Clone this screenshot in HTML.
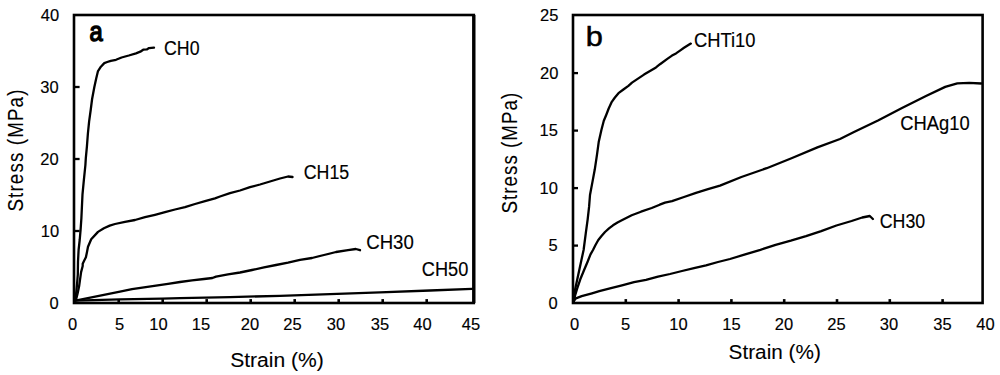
<!DOCTYPE html>
<html><head><meta charset="utf-8"><style>
html,body{margin:0;padding:0;background:#fff;}
body{width:1000px;height:375px;overflow:hidden;}
svg{display:block;}
text{font-family:"Liberation Sans",sans-serif;fill:#000;}
</style></head><body>
<svg width="1000" height="375" viewBox="0 0 1000 375">
<rect x="74.0" y="15.0" width="399.8" height="288.0" fill="none" stroke="#000" stroke-width="2.6"/>
<rect x="573.0" y="15.0" width="409.6" height="288.0" fill="none" stroke="#000" stroke-width="2.6"/>
<line x1="473.8" y1="15.0" x2="473.8" y2="303.0" stroke="#000" stroke-width="3.3"/>
<line x1="74.0" y1="231.0" x2="79.6" y2="231.0" stroke="#000" stroke-width="2.3"/>
<line x1="74.0" y1="159.0" x2="79.6" y2="159.0" stroke="#000" stroke-width="2.3"/>
<line x1="74.0" y1="87.0" x2="79.6" y2="87.0" stroke="#000" stroke-width="2.3"/>
<line x1="118.7" y1="303.0" x2="118.7" y2="299.1" stroke="#000" stroke-width="2.6"/>
<line x1="162.7" y1="303.0" x2="162.7" y2="299.1" stroke="#000" stroke-width="2.6"/>
<line x1="206.7" y1="303.0" x2="206.7" y2="299.1" stroke="#000" stroke-width="2.6"/>
<line x1="250.7" y1="303.0" x2="250.7" y2="299.1" stroke="#000" stroke-width="2.6"/>
<line x1="294.7" y1="303.0" x2="294.7" y2="299.1" stroke="#000" stroke-width="2.6"/>
<line x1="338.7" y1="303.0" x2="338.7" y2="299.1" stroke="#000" stroke-width="2.6"/>
<line x1="382.7" y1="303.0" x2="382.7" y2="299.1" stroke="#000" stroke-width="2.6"/>
<line x1="426.7" y1="303.0" x2="426.7" y2="299.1" stroke="#000" stroke-width="2.6"/>
<line x1="573.0" y1="245.6" x2="578.0" y2="245.6" stroke="#000" stroke-width="2.3"/>
<line x1="573.0" y1="188.1" x2="578.0" y2="188.1" stroke="#000" stroke-width="2.3"/>
<line x1="573.0" y1="130.6" x2="578.0" y2="130.6" stroke="#000" stroke-width="2.3"/>
<line x1="573.0" y1="73.1" x2="578.0" y2="73.1" stroke="#000" stroke-width="2.3"/>
<line x1="625.8" y1="303.0" x2="625.8" y2="299.1" stroke="#000" stroke-width="2.6"/>
<line x1="678.6" y1="303.0" x2="678.6" y2="299.1" stroke="#000" stroke-width="2.6"/>
<line x1="731.4" y1="303.0" x2="731.4" y2="299.1" stroke="#000" stroke-width="2.6"/>
<line x1="784.2" y1="303.0" x2="784.2" y2="299.1" stroke="#000" stroke-width="2.6"/>
<line x1="837.0" y1="303.0" x2="837.0" y2="299.1" stroke="#000" stroke-width="2.6"/>
<line x1="889.8" y1="303.0" x2="889.8" y2="299.1" stroke="#000" stroke-width="2.6"/>
<line x1="942.6" y1="303.0" x2="942.6" y2="299.1" stroke="#000" stroke-width="2.6"/>
<text transform="translate(49.40,309.00)" font-size="16.5" stroke="#000" stroke-width="0.15">0</text>
<text transform="translate(40.70,237.00)" font-size="16.5" stroke="#000" stroke-width="0.15">10</text>
<text transform="translate(40.20,165.00)" font-size="16.5" stroke="#000" stroke-width="0.15">20</text>
<text transform="translate(40.20,93.00)" font-size="16.5" stroke="#000" stroke-width="0.15">30</text>
<text transform="translate(40.70,21.00)" font-size="16.5" stroke="#000" stroke-width="0.15">40</text>
<text transform="translate(548.40,309.00)" font-size="16.5" stroke="#000" stroke-width="0.15">0</text>
<text transform="translate(548.40,251.00)" font-size="16.5" stroke="#000" stroke-width="0.15">5</text>
<text transform="translate(539.55,194.00)" font-size="16.5" stroke="#000" stroke-width="0.15">10</text>
<text transform="translate(539.55,136.00)" font-size="16.5" stroke="#000" stroke-width="0.15">15</text>
<text transform="translate(540.05,79.00)" font-size="16.5" stroke="#000" stroke-width="0.15">20</text>
<text transform="translate(540.05,21.00)" font-size="16.5" stroke="#000" stroke-width="0.15">25</text>
<text transform="translate(67.90,330.00)" font-size="16.5" stroke="#000" stroke-width="0.15">0</text>
<text transform="translate(114.90,330.00)" font-size="16.5" stroke="#000" stroke-width="0.15">5</text>
<text transform="translate(149.30,330.00)" font-size="16.5" stroke="#000" stroke-width="0.15">10</text>
<text transform="translate(191.80,330.00)" font-size="16.5" stroke="#000" stroke-width="0.15">15</text>
<text transform="translate(240.80,330.00)" font-size="16.5" stroke="#000" stroke-width="0.15">20</text>
<text transform="translate(283.30,330.00)" font-size="16.5" stroke="#000" stroke-width="0.15">25</text>
<text transform="translate(326.80,330.00)" font-size="16.5" stroke="#000" stroke-width="0.15">30</text>
<text transform="translate(370.80,330.00)" font-size="16.5" stroke="#000" stroke-width="0.15">35</text>
<text transform="translate(413.30,330.00)" font-size="16.5" stroke="#000" stroke-width="0.15">40</text>
<text transform="translate(461.80,330.00)" font-size="16.5" stroke="#000" stroke-width="0.15">45</text>
<text transform="translate(569.90,330.00)" font-size="16.5" stroke="#000" stroke-width="0.15">0</text>
<text transform="translate(620.90,330.00)" font-size="16.5" stroke="#000" stroke-width="0.15">5</text>
<text transform="translate(669.30,330.00)" font-size="16.5" stroke="#000" stroke-width="0.15">10</text>
<text transform="translate(722.30,330.00)" font-size="16.5" stroke="#000" stroke-width="0.15">15</text>
<text transform="translate(774.80,330.00)" font-size="16.5" stroke="#000" stroke-width="0.15">20</text>
<text transform="translate(827.30,330.00)" font-size="16.5" stroke="#000" stroke-width="0.15">25</text>
<text transform="translate(879.80,330.00)" font-size="16.5" stroke="#000" stroke-width="0.15">30</text>
<text transform="translate(933.30,330.00)" font-size="16.5" stroke="#000" stroke-width="0.15">35</text>
<text transform="translate(976.30,330.00)" font-size="16.5" stroke="#000" stroke-width="0.15">40</text>
<text transform="translate(164.00,54.95)" font-size="19.5" textLength="35.50" lengthAdjust="spacingAndGlyphs" stroke="#000" stroke-width="0.15">CH0</text>
<text transform="translate(303.75,178.80)" font-size="19.5" textLength="45.50" lengthAdjust="spacingAndGlyphs" stroke="#000" stroke-width="0.15">CH15</text>
<text transform="translate(366.25,248.80)" font-size="19.5" textLength="47.50" lengthAdjust="spacingAndGlyphs" stroke="#000" stroke-width="0.15">CH30</text>
<text transform="translate(421.85,275.80)" font-size="19.5" textLength="46.50" lengthAdjust="spacingAndGlyphs" stroke="#000" stroke-width="0.15">CH50</text>
<text transform="translate(693.95,46.65)" font-size="19.5" textLength="61.50" lengthAdjust="spacingAndGlyphs" stroke="#000" stroke-width="0.15">CHTi10</text>
<text transform="translate(900.20,130.40)" font-size="19.5" textLength="69.50" lengthAdjust="spacingAndGlyphs" stroke="#000" stroke-width="0.15">CHAg10</text>
<text transform="translate(879.75,228.00)" font-size="19.5" textLength="45.50" lengthAdjust="spacingAndGlyphs" stroke="#000" stroke-width="0.15">CH30</text>
<text transform="translate(89.55,40.50)" font-size="28.5" textLength="13.20" lengthAdjust="spacingAndGlyphs" stroke="#000" stroke-width="1.5">a</text>
<text transform="translate(585.70,45.50)" font-size="27" textLength="17.10" lengthAdjust="spacingAndGlyphs" stroke="#000" stroke-width="0.5">b</text>
<text transform="translate(230.15,366.75)" font-size="20.5" textLength="93.70" lengthAdjust="spacingAndGlyphs" stroke="#000" stroke-width="0.1">Strain (%)</text>
<text transform="translate(728.60,358.75)" font-size="20.5" textLength="92.20" lengthAdjust="spacingAndGlyphs" stroke="#000" stroke-width="0.1">Strain (%)</text>
<text transform="translate(23.40,211.60) rotate(-90) scale(0.88,1)" font-size="21.3" textLength="138.64" lengthAdjust="spacing" stroke="#000" stroke-width="0.1">Stress (MPa)</text>
<text transform="translate(517.25,213.40) rotate(-90) scale(0.88,1)" font-size="21.3" textLength="137.05" lengthAdjust="spacing" stroke="#000" stroke-width="0.1">Stress (MPa)</text>
<polyline points="75.4,300.6 76.0,294.7 77.0,284.6 77.8,274.5 78.0,261.5 78.6,250.0 79.7,240.0 80.6,229.7 81.4,218.0 82.5,194.3 83.9,179.7 85.4,165.0 85.8,158.4 86.9,146.7 87.9,133.5 89.1,121.7 90.7,110.0 92.1,99.0 94.3,87.3 96.2,78.5 98.0,71.1 100.9,66.7 104.3,63.1 107.2,62.0 110.8,60.8 116.0,59.8 121.6,57.5 128.8,55.5 136.0,53.3 140.3,51.7 143.2,49.7 146.8,49.4 149.0,48.1 154.0,47.6" fill="none" stroke="#000" stroke-width="2.3" stroke-linejoin="round" stroke-linecap="round"/>
<polyline points="75.2,300.6 76.1,299.5 77.6,293.4 79.1,286.3 80.1,279.2 81.1,272.1 82.7,266.0 82.7,263.7 84.5,260.0 85.9,257.3 87.0,252.0 88.0,246.7 91.2,239.2 98.0,231.9 103.9,228.2 109.7,225.6 115.0,224.0 125.0,221.8 135.0,220.0 145.0,217.2 155.0,214.8 165.0,212.2 175.0,209.5 185.0,207.2 195.0,204.0 205.0,201.2 215.0,198.4 220.0,196.5 230.0,193.2 240.0,190.5 250.0,187.2 260.0,184.5 270.0,181.5 280.0,178.5 288.0,176.5 292.5,177.0" fill="none" stroke="#000" stroke-width="2.3" stroke-linejoin="round" stroke-linecap="round"/>
<polyline points="75.4,300.6 120.0,291.6 132.0,289.2 144.0,287.4 156.0,285.6 168.0,283.8 180.0,282.0 192.0,280.4 204.0,279.0 212.4,278.0 216.0,276.6 228.0,274.4 240.0,272.5 252.0,270.0 264.0,267.4 276.0,265.0 288.0,262.6 300.0,259.8 312.0,258.0 324.0,255.0 336.0,252.0 348.0,250.2 355.8,249.0 360.0,250.2" fill="none" stroke="#000" stroke-width="2.3" stroke-linejoin="round" stroke-linecap="round"/>
<polyline points="75.4,300.6 120.0,299.4 162.0,298.6 180.0,298.2 230.0,297.1 280.0,295.8 330.0,294.2 380.0,292.3 430.0,290.5 472.0,288.8" fill="none" stroke="#000" stroke-width="2.3" stroke-linejoin="round" stroke-linecap="round"/>
<polyline points="573.8,301.0 574.1,298.4 575.1,289.6 577.3,279.3 579.5,269.0 581.7,258.8 583.6,250.0 585.8,233.1 587.6,219.9 589.1,206.7 590.0,195.0 592.6,181.1 594.8,169.3 597.0,154.7 598.7,142.1 601.4,130.0 603.8,120.8 606.3,114.7 608.7,108.5 611.8,101.8 614.9,97.5 618.5,93.2 623.4,89.5 628.4,85.8 632.0,82.6 638.0,78.6 644.0,74.6 650.0,71.0 656.0,67.4 660.0,64.2 668.0,58.4 672.0,55.6 676.0,53.4 680.0,50.6 684.0,47.8 688.0,45.3 690.8,43.6" fill="none" stroke="#000" stroke-width="2.3" stroke-linejoin="round" stroke-linecap="round"/>
<polyline points="573.8,301.0 575.1,295.5 577.3,288.1 580.3,279.3 583.9,270.5 587.6,261.7 590.5,254.4 593.0,250.0 595.5,245.0 598.3,240.0 601.5,236.0 605.0,232.0 609.0,228.4 613.0,225.3 617.5,222.5 622.3,220.0 631.7,215.3 641.0,211.7 651.7,208.0 659.7,204.7 665.0,202.7 672.0,201.2 684.0,197.0 696.0,192.8 708.0,189.2 720.0,185.6 741.4,177.0 766.7,168.2 792.1,158.0 817.4,147.4 840.0,139.0 854.0,132.0 878.0,120.5 902.0,108.0 926.0,96.0 945.2,86.9 957.3,83.3 969.3,82.8 981.3,83.5" fill="none" stroke="#000" stroke-width="2.3" stroke-linejoin="round" stroke-linecap="round"/>
<polyline points="573.8,301.0 575.9,298.4 581.7,296.2 592.0,293.3 599.3,291.1 610.0,288.4 622.0,285.4 634.0,282.2 646.0,279.8 658.0,276.6 670.0,274.0 682.0,271.0 694.0,268.2 706.0,265.4 718.0,262.0 730.0,259.0 745.2,254.4 760.4,249.8 775.6,244.8 790.8,240.7 806.0,236.2 821.2,231.1 836.4,225.5 851.6,221.0 862.2,217.5 869.8,216.0 872.9,219.0" fill="none" stroke="#000" stroke-width="2.3" stroke-linejoin="round" stroke-linecap="round"/>
</svg>
</body></html>
